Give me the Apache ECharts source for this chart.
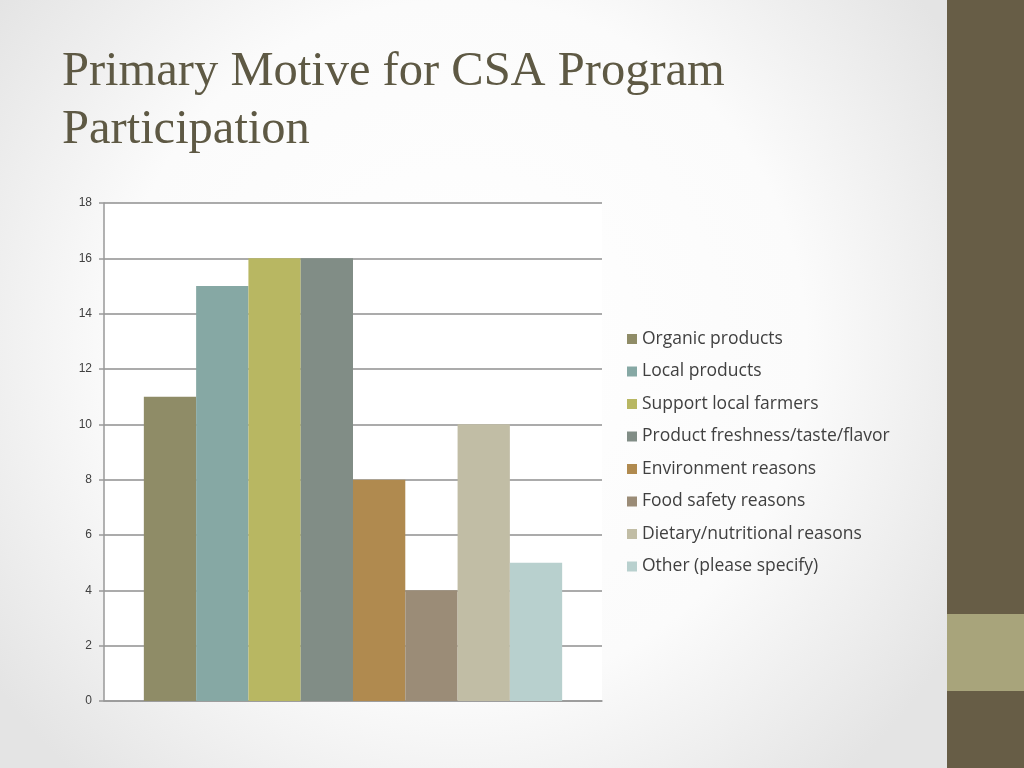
<!DOCTYPE html>
<html>
<head>
<meta charset="utf-8">
<script src="https://cdn.jsdelivr.net/npm/echarts@6/dist/echarts.min.js"></script>
<style>
html,body{margin:0;padding:0;width:1024px;height:768px;overflow:hidden;}
#c{width:1024px;height:768px;}
</style>
</head>
<body>
<div id="c"></div>
<script>
var categories = ['Organic products','Local products','Support local farmers','Product freshness/taste/flavor','Environment reasons','Food safety reasons','Dietary/nutritional reasons','Other (please specify)'];
var values = [11, 15, 16, 16, 8, 4, 10, 5];
var colors = ['#8F8C67','#86A8A4','#B8B762','#818D86','#B08A4F','#9B8C77','#C1BDA5','#B8D0CE'];
var yTicks = {min: 0, max: 18, interval: 2};

var chart = echarts.init(document.getElementById('c'), null, {renderer: 'canvas'});
var series = categories.map(function (name, i) {
  return {
    name: name,
    type: 'bar',
    data: [values[i]],
    itemStyle: {color: colors[i]},
    barGap: '0%',
    barCategoryGap: '16%'
  };
});
chart.setOption({
  backgroundColor: {
    type: 'radial', x: 0.45, y: 0.45, r: 0.75,
    colorStops: [{offset: 0, color: '#ffffff'}, {offset: 0.6, color: '#fbfbfb'}, {offset: 1, color: '#e4e4e4'}]
  },
  animation: false,
  color: colors,
  title: {
    text: 'Primary Motive for CSA Program\nParticipation',
    left: 57, top: 38,
    textStyle: {fontFamily: 'Liberation Serif', fontSize: 48.5, fontWeight: 'normal', color: '#5E5944', lineHeight: 58}
  },
  graphic: [
    {type: 'rect', shape: {x: 947, y: 0, width: 77, height: 768}, style: {fill: '#675D46'}},
    {type: 'rect', shape: {x: 947, y: 614, width: 77, height: 77}, style: {fill: '#A8A47B'}}
  ],
  grid: {left: 104, top: 203, width: 498, height: 498, show: true, backgroundColor: '#ffffff', borderWidth: 0},
  legend: {
    orient: 'vertical', left: 622, top: 324,
    itemWidth: 10, itemHeight: 10, itemGap: 12.5,
    icon: 'rect',
    textStyle: {fontFamily: 'Open Sans', fontSize: 17.5, color: '#404040', lineHeight: 20},
    data: categories
  },
  xAxis: {
    type: 'category', data: [''],
    axisLine: {show: true, lineStyle: {color: '#999999', width: 1.5}},
    axisTick: {show: false}, axisLabel: {show: false}
  },
  yAxis: {
    type: 'value', min: yTicks.min, max: yTicks.max, interval: yTicks.interval,
    axisLine: {show: true, lineStyle: {color: '#999999', width: 1.5}},
    axisTick: {show: true, length: 5, lineStyle: {color: '#999999', width: 1.5}},
    axisLabel: {fontFamily: 'Liberation Sans', fontSize: 12, color: '#404040', margin: 12},
    splitLine: {show: true, lineStyle: {color: '#8f8f8f', width: 1.5}}
  },
  series: series
});
</script>
</body>
</html>
